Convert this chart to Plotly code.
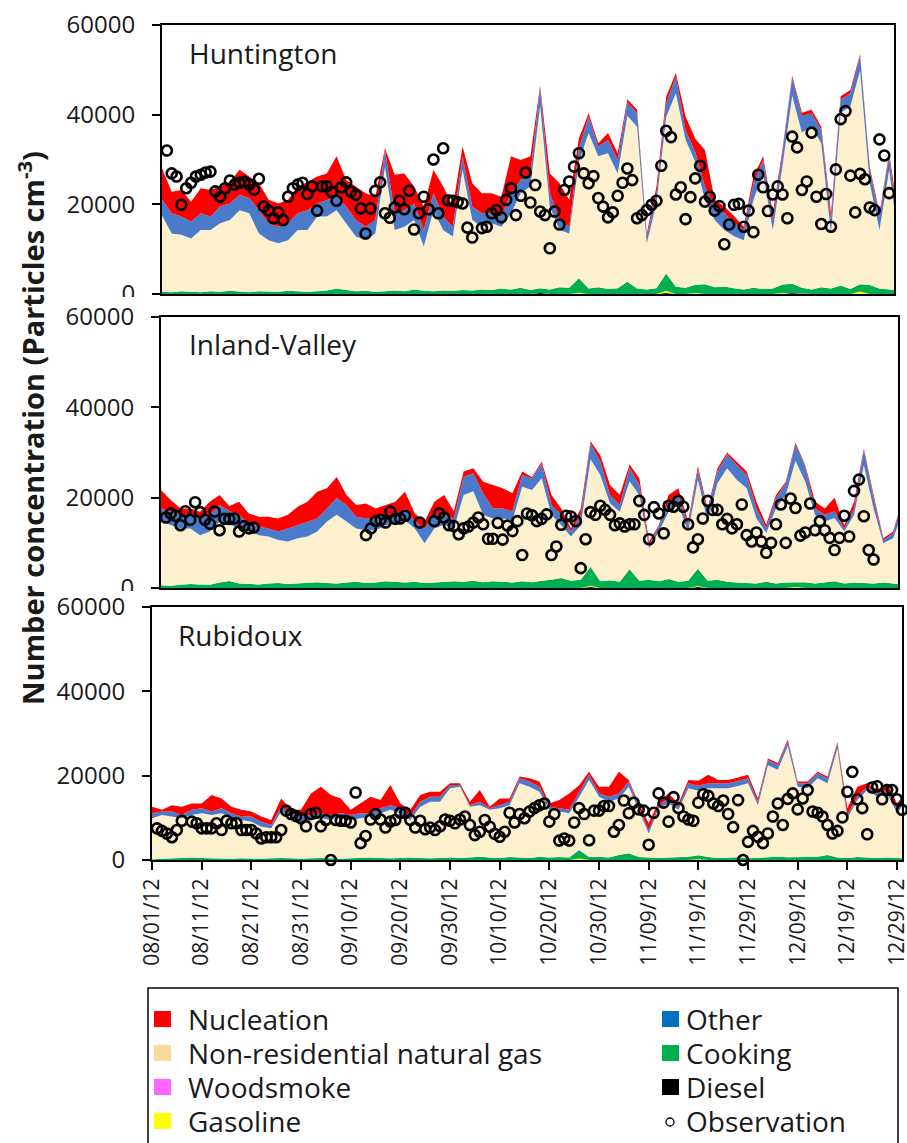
import plotly.graph_objects as go
from datetime import date, timedelta

W, H = 907, 1143
START = date(2012, 8, 1)
END = date(2012, 12, 30)

# ---------------- data (values in thousand particles cm-3) ----------------
AREA_DAYS = list(range(0, 151, 2)) + [151]      # day offsets from 08/01/12
OBS_DAYS = list(range(152))

HUN_NUCLEATION_K = [7.0, 4.8, 5.9, 4.5, 5.6, 5.9, 4.5, 4.8, 5.6, 4.8, 6.0, 5.2, 5.2, 5.2, 6.0, 6.3,
                    6.0, 5.9, 9.0, 5.9, 7.5, 7.5, 5.2, 0.4, 8.6, 8.2, 3.8, 5.2, 5.2, 6.7, 4.5, 2.2,
                    5.2, 4.5, 4.5, 4.4, 8.2, 4.5, 3.8, 0.4, 4.4, 8.2, 6.0, 2.3, 0.7, 0.7, 1.5, 1.5,
                    0.7, 0.8, 0.7, 1.5, 1.5, 0.8, 3.0, 3.0, 8.1, 1.5, 1.5, 1.5, 0.7, 1.5, 0.8, 1.5,
                    0.7, 0.4, 0.7, 0.8, 0.7, 1.5, 0.7, 0.7, 0.4, 0.7, 0.7, 0.7, 1.5]
HUN_OTHER_K = [3.5, 4.5, 4.1, 3.7, 3.7, 3.0, 3.7, 3.7, 3.4, 3.4, 5.2, 3.8, 3.7, 3.8, 3.7, 4.4,
               2.9, 3.7, 3.0, 3.7, 3.7, 3.0, 3.0, 3.7, 3.7, 3.7, 3.7, 3.7, 3.8, 3.0, 2.2, 3.0,
               3.0, 3.0, 2.2, 2.3, 4.5, 2.9, 2.9, 4.1, 3.0, 2.2, 1.5, 2.9, 3.7, 2.2, 3.0, 3.0,
               3.0, 3.0, 1.5, 2.3, 3.0, 3.7, 2.2, 2.2, 3.0, 3.0, 3.7, 3.0, 2.3, 3.7, 3.0, 2.2,
               3.0, 4.1, 3.7, 3.0, 3.0, 3.0, 3.0, 3.0, 3.3, 3.0, 3.0, 3.0, 3.0]
HUN_NATGAS_K = [17.0, 13.1, 12.6, 11.9, 13.9, 13.7, 15.3, 15.8, 18.2, 17.6, 12.9, 11.5, 10.8, 11.3, 13.7, 13.8,
                16.7, 16.5, 17.5, 14.9, 12.2, 11.3, 13.0, 27.8, 13.5, 14.4, 15.5, 9.9, 18.1, 13.5, 12.1, 26.8,
                15.7, 14.0, 14.9, 13.8, 17.0, 21.1, 23.1, 40.7, 18.5, 12.8, 12.1, 26.0, 34.7, 29.2, 30.3, 25.6,
                37.0, 36.1, 10.3, 18.9, 34.9, 43.2, 33.0, 27.4, 18.8, 15.0, 12.6, 11.6, 11.0, 19.6, 25.8, 13.1,
                26.5, 41.9, 34.6, 36.3, 32.1, 12.3, 38.5, 40.7, 47.7, 22.7, 13.1, 26.7, 18.6]
HUN_COOKING_K = [0.5, 0.4, 0.6, 0.5, 0.4, 0.6, 0.5, 0.7, 0.5, 0.4, 0.6, 0.5, 0.5, 0.7, 0.6, 0.5,
                 0.6, 0.8, 1.2, 0.9, 0.6, 0.7, 0.5, 0.6, 0.8, 0.6, 1.0, 0.7, 0.6, 0.8, 0.7, 0.9,
                 0.8, 1.0, 0.9, 1.2, 1.0, 1.4, 0.9, 1.1, 1.0, 1.5, 1.4, 3.2, 1.2, 1.5, 1.1, 1.3,
                 2.6, 1.2, 1.0, 1.3, 3.9, 1.6, 1.4, 1.8, 2.2, 1.5, 1.7, 1.2, 1.0, 1.4, 1.1, 1.2,
                 1.9, 2.1, 1.3, 1.0, 1.5, 1.2, 1.8, 1.1, 1.6, 2.0, 1.2, 1.0, 0.9]
HUN_DIESEL_PTS = {78: 0.2, 96: 0.15, 104: 0.25, 130: 0.2, 144: 0.15}
HUN_GASOLINE_PTS = {86: 0.3, 104: 0.45, 110: 0.25, 128: 0.2, 144: 0.4}
HUN_WOODSMOKE_PTS = {118: 0.1, 132: 0.12, 140: 0.1}
HUN_OBS_K = [None,
             32.0, 26.9, 26.2, 19.9, 23.6, 24.8, 26.2, 26.6, 27.1, 27.3,
             22.9, 21.7, 23.6, 25.3, 24.4, 24.8, 25.0, 24.4, 23.3, 25.7,
             19.5, 18.6, 16.9, 18.2, 16.5, 21.7, 23.6, 24.4, 24.8, 22.3,
             24.0, 18.6, 24.0, 24.0, 22.8, 20.8, 23.8, 24.9, 22.8, 22.1,
             19.1, 13.5, 19.1, 23.0, 24.9, 18.0, 17.0, 19.3, 20.8, 18.9,
             23.0, 14.4, 18.0, 21.7, 18.9, 30.0, 18.0, 32.5, 20.9, 20.8,
             20.5, 20.2, 14.8, 12.6, None, 14.7, 15.0, 18.0, 18.7, 17.1,
             21.0, 23.6, 17.6, 21.9, 27.1, 20.4, 24.3, 18.4, 17.6, 10.2,
             18.4, 15.5, 23.2, 25.1, 28.4, 31.4, 26.9, 24.7, 26.3, 21.4,
             19.5, 17.1, 18.2, 21.9, 24.8, 28.0, 25.4, 16.9, 17.6, 18.7,
             19.9, 20.8, 28.6, 36.4, 35.0, 22.2, 23.8, 16.7, 21.6, 25.8,
             28.6, 20.6, 21.7, 18.6, 19.6, 11.1, 15.5, 19.9, 20.1, 15.0,
             18.6, 13.8, 26.6, 23.8, 18.5, 22.2, 24.0, 22.2, 16.9, 35.1,
             32.7, 23.2, 25.1, 36.0, 21.7, 15.6, 22.3, 15.0, 27.8, 39.0,
             40.8, 26.4, 18.2, 26.8, 25.6, 19.3, 18.7, 34.5, 30.9, 22.5,
             None]

INL_NUCLEATION_K = [4.1, 2.6, 1.4, 1.4, 1.5, 2.9, 2.2, 1.1, 2.9, 2.2, 2.2, 2.6, 2.9, 3.0, 4.1, 4.4,
                    5.9, 4.5, 4.7, 2.2, 2.6, 3.3, 2.2, 2.2, 2.9, 3.7, 1.8, 1.5, 2.9, 4.4, 1.6, 1.2,
                    1.1, 2.5, 5.2, 4.5, 4.0, 0.8, 0.3, 0.4, 2.2, 1.4, 0.7, 1.4, 0.4, 1.4, 2.2, 2.2,
                    0.7, 1.5, 0.8, 0.3, 1.5, 1.5, 0.8, 0.7, 0.7, 0.7, 0.4, 0.8, 0.8, 1.5, 0.7, 0.7,
                    0.3, 0.4, 0.3, 1.5, 1.4, 3.0, 0.7, 1.5, 0.3, 0.7, 0.4, 0.4, 0.4]
INL_OTHER_K = [2.9, 3.0, 3.0, 3.0, 3.7, 3.7, 3.7, 3.0, 3.0, 1.5, 1.9, 1.8, 1.9, 2.9, 2.9, 3.3,
               2.9, 2.9, 3.7, 3.7, 2.6, 2.6, 2.6, 2.3, 1.9, 2.6, 1.5, 3.3, 3.0, 2.2, 2.2, 4.0,
               4.0, 4.8, 2.2, 2.2, 2.0, 2.6, 2.6, 3.3, 2.2, 2.3, 1.1, 2.3, 3.6, 3.0, 1.9, 1.5,
               3.0, 2.2, 0.7, 1.1, 2.2, 2.2, 1.4, 2.3, 2.2, 2.6, 3.1, 3.3, 2.9, 2.2, 1.1, 2.3,
               2.6, 3.6, 3.4, 1.4, 1.5, 1.5, 0.7, 1.4, 3.4, 2.3, 0.7, 1.1, 1.9]
INL_NATGAS_K = [14.1, 13.4, 12.5, 12.3, 10.9, 11.8, 13.5, 12.5, 12.2, 11.9, 10.9, 10.4, 9.5, 9.4, 10.0, 10.2,
                11.2, 13.6, 15.2, 13.5, 11.8, 11.7, 11.6, 12.4, 13.0, 13.8, 11.8, 8.8, 12.0, 12.7, 11.7, 19.2,
                19.8, 14.9, 13.9, 14.0, 13.8, 20.9, 20.4, 22.7, 14.4, 11.7, 9.8, 12.1, 23.8, 23.5, 17.0, 15.5,
                19.5, 19.0, 7.0, 11.0, 14.9, 17.0, 10.9, 19.7, 13.1, 21.4, 25.1, 22.7, 21.0, 14.4, 10.8, 16.6,
                19.4, 26.9, 22.2, 15.2, 13.5, 14.0, 11.5, 15.0, 26.1, 16.6, 8.7, 10.0, 13.0]
INL_COOKING_K = [0.6, 0.5, 0.7, 0.9, 0.8, 0.7, 1.2, 1.4, 1.0, 0.9, 0.8, 1.0, 1.1, 0.9, 1.0, 1.2,
                 1.3, 1.1, 1.0, 1.2, 1.4, 1.1, 1.2, 1.5, 1.3, 1.2, 1.4, 1.1, 1.2, 1.3, 1.5, 1.4,
                 1.6, 1.3, 1.5, 1.4, 1.2, 1.5, 1.3, 1.6, 1.8, 2.2, 1.6, 1.8, 4.2, 1.5, 1.7, 1.4,
                 4.0, 1.6, 1.8, 1.5, 2.0, 1.4, 1.6, 3.8, 1.6, 1.8, 1.4, 1.2, 1.1, 1.0, 1.3, 1.0,
                 1.2, 1.1, 1.3, 1.0, 1.2, 1.4, 1.0, 1.2, 1.1, 1.0, 1.2, 1.0, 0.9]
INL_DIESEL_PTS = {88: 0.2, 96: 0.15, 110: 0.2}
INL_GASOLINE_PTS = {14: 0.15, 88: 0.3, 110: 0.25, 130: 0.2}
INL_WOODSMOKE_PTS = {124: 0.1, 138: 0.1}
INL_OBS_K = [None,
             15.6, 16.5, 16.0, 13.9, 17.0, 15.1, 19.0, 16.8, 15.1, 14.2,
             16.9, 12.8, 15.3, 15.3, 15.4, 12.5, 13.7, 13.2, 13.4, None,
             None, None, None, None, None, None, None, None, None, None,
             None, None, None, None, None, None, None, None, None, None,
             None, 11.7, 13.2, 14.8, 15.1, 14.5, 16.9, 15.3, 15.4, 16.0,
             None, None, 14.5, None, None, 14.8, 16.5, 15.6, 13.9, 13.7,
             11.9, 13.2, 13.6, 14.5, 15.6, 14.1, 10.9, 10.9, 14.4, 10.7,
             13.8, 12.6, 14.8, 7.3, 16.5, 16.1, 14.8, 15.3, 16.3, 7.3,
             9.2, 14.0, 16.0, 15.8, 14.8, 4.4, 10.8, 16.8, 16.2, 18.2,
             17.3, 16.2, 13.9, 14.3, 13.6, 14.1, 14.1, 19.3, 16.2, 10.8,
             17.9, 16.5, 12.1, 18.2, 18.0, 19.3, 18.0, 14.1, 9.0, 10.8,
             15.4, 19.3, 17.3, 17.3, 14.1, 15.3, 13.2, 14.1, 18.5, 11.7,
             10.3, 12.3, 10.3, 7.8, 10.0, 14.1, 18.5, 10.0, 19.8, 17.7,
             11.6, 12.3, 18.7, 12.8, 14.8, 12.8, 11.1, 8.4, 11.1, 16.0,
             11.4, 21.5, 24.0, 15.9, 8.4, 6.3, None, None, None, None,
             None]

RUB_NUCLEATION_K = [1.5, 0.4, 1.5, 1.9, 1.5, 1.1, 3.9, 2.3, 1.5, 1.6, 1.2, 1.2, 1.2, 2.0, 0.8, 1.6,
                    5.1, 6.3, 4.7, 3.5, 1.2, 2.3, 3.9, 1.9, 4.8, 1.1, 1.6, 1.6, 1.2, 1.2, 0.4, 0.4,
                    0.8, 2.8, 0.3, 1.6, 0.8, 0.4, 0.8, 1.2, 0.8, 1.9, 3.9, 1.6, 0.7, 1.6, 2.4, 5.1,
                    0.4, 0.8, 1.6, 0.8, 1.2, 0.8, 0.8, 1.2, 2.0, 0.8, 0.8, 0.8, 0.8, 0.8, 0.4, 0.4,
                    0.4, 0.4, 0.4, 0.3, 0.4, 0.4, 1.6, 2.4, 0.8, 0.8, 1.6, 1.5, 1.6]
RUB_OTHER_K = [1.2, 0.8, 1.2, 0.8, 1.2, 1.2, 0.8, 1.2, 1.2, 0.8, 1.2, 1.2, 0.8, 1.1, 0.8, 1.6,
               1.2, 1.2, 1.2, 0.8, 1.2, 1.2, 0.8, 1.2, 1.1, 1.2, 0.8, 1.2, 1.2, 1.2, 0.8, 0.4,
               0.4, 0.8, 0.4, 0.7, 0.8, 1.2, 1.2, 1.2, 0.7, 0.8, 0.8, 1.2, 1.2, 0.8, 1.2, 1.2,
               1.2, 0.7, 0.8, 0.7, 1.2, 0.7, 1.2, 1.2, 1.2, 1.2, 1.2, 1.2, 1.2, 0.8, 1.2, 1.2,
               1.2, 0.8, 1.2, 1.2, 1.2, 1.1, 0.8, 0.8, 0.8, 0.8, 0.8, 0.8, 0.8]
RUB_NATGAS_K = [9.7, 10.4, 10.0, 9.5, 10.1, 10.6, 10.3, 10.8, 9.6, 9.1, 8.8, 7.6, 7.1, 11.0, 9.9, 8.4,
                9.1, 9.4, 9.1, 10.0, 9.1, 9.4, 9.7, 10.6, 11.5, 10.6, 8.9, 12.1, 13.4, 13.3, 16.4, 16.9,
                12.0, 12.2, 11.3, 11.8, 12.3, 17.6, 16.9, 15.4, 11.3, 10.8, 10.5, 12.6, 18.3, 14.2, 13.2, 13.4,
                15.8, 11.2, 5.7, 11.8, 12.8, 11.2, 16.2, 15.3, 16.3, 16.5, 16.4, 16.9, 17.8, 12.5, 21.9, 20.6,
                26.4, 16.8, 16.3, 18.6, 17.0, 25.9, 9.4, 13.5, 16.0, 14.5, 15.2, 10.7, 12.2]
RUB_COOKING_K = [0.2, 0.3, 0.3, 0.4, 0.6, 0.5, 0.4, 0.3, 0.3, 0.4, 0.3, 0.3, 0.4, 0.5, 0.4, 0.3,
                 0.4, 0.5, 0.4, 0.3, 0.4, 0.5, 0.6, 0.5, 0.4, 0.5, 0.6, 0.5, 0.4, 0.5, 0.6, 0.5,
                 0.6, 0.8, 0.6, 0.5, 0.7, 0.6, 0.5, 0.8, 0.6, 0.7, 0.6, 2.0, 0.7, 0.8, 0.6, 1.2,
                 1.6, 0.7, 0.6, 0.5, 0.6, 0.7, 0.8, 0.9, 0.7, 0.5, 0.6, 0.5, 0.4, 0.5, 0.6, 0.7,
                 0.5, 0.6, 0.7, 0.8, 1.2, 0.6, 0.5, 0.7, 0.6, 0.5, 0.6, 0.4, 0.4]
RUB_DIESEL_PTS = {86: 0.15, 118: 0.15}
RUB_GASOLINE_PTS = {86: 0.2, 110: 0.2, 128: 0.15}
RUB_WOODSMOKE_PTS = {126: 0.08}
RUB_OBS_K = [None,
             7.5, 6.9, 6.3, 5.4, 7.1, 9.3, None, 9.1, 8.7, 7.5,
             7.5, 7.5, 8.7, 7.1, 9.3, 8.7, 8.7, 7.1, 7.1, 7.1,
             6.3, 5.1, 5.4, 5.4, 5.4, 7.1, 11.7, 10.9, 10.4, 9.9,
             8.0, 10.9, 11.2, 8.0, 9.5, 0.0, 9.5, 9.3, 9.3, 8.9,
             16.0, 4.0, 5.7, 9.6, 10.9, 9.6, 7.7, 9.1, 9.5, 11.2,
             11.2, 9.5, 7.7, 9.3, 7.3, 7.7, 7.1, 8.0, 9.6, 9.3,
             8.7, 9.6, 10.3, 8.3, 5.9, 6.7, 9.5, 7.9, 6.2, 5.5,
             6.7, 11.2, 8.9, 10.9, 9.9, 11.5, 12.3, 13.0, 13.4, 9.1,
             10.9, 4.6, 5.1, 4.6, 8.9, 12.3, 10.9, 4.7, 11.7, 11.7,
             12.8, 12.8, 6.7, 8.3, 14.1, 11.1, 13.6, 12.0, 11.7, 3.6,
             11.2, 15.8, 13.6, 9.1, 14.9, 12.3, 10.3, 9.6, 9.3, 13.6,
             15.6, 15.2, 13.4, 12.8, 14.1, 10.9, 7.8, 14.2, 0.0, 4.3,
             6.9, 5.5, 4.0, 6.3, 10.3, 13.4, 8.3, 14.5, 15.8, 12.0,
             14.6, 16.6, 11.5, 11.2, 10.3, 8.3, 6.3, 6.9, 10.1, 16.2,
             20.9, 14.4, 12.3, 6.1, 17.2, 17.5, 14.4, 16.6, 16.6, 14.4,
             11.9]

Y_TICKS = [0, 20000, 40000, 60000]
X_TICK_DAYS = list(range(0, 151, 10))

# ---------------- styling ----------------
FILL = {"Diesel": "#000000", "Gasoline": "#FFFF00", "Woodsmoke": "#FF66FF", "Cooking": "#00B050",
        "Non-residential natural gas": "#FDF0CF", "Other": "#4A7BCB", "Nucleation": "#FF0000"}
LEGEND_COL = {"Nucleation": "#FF0000", "Non-residential natural gas": "#FAD99B", "Woodsmoke": "#FF66FF",
              "Gasoline": "#FFFF00", "Other": "#0070C0", "Cooking": "#00B050", "Diesel": "#000000"}
FONT = "Open Sans"
TXT = "#1a1a1a"


def to_date(d):
    return (START + timedelta(days=d)).isoformat()


def thousand(vals):
    return [None if v is None else v * 1000 for v in vals]


def sparse(pts):
    return [pts.get(d, 0) * 1000 for d in AREA_DAYS]


def px(xp):
    return xp / W


def py(yp):
    return 1 - yp / H


panels = [
    dict(name="Huntington", x=(162, 894), y=(25, 294), title_xy=(187, 53),
         series=[("Diesel", sparse(HUN_DIESEL_PTS)), ("Gasoline", sparse(HUN_GASOLINE_PTS)),
                 ("Woodsmoke", sparse(HUN_WOODSMOKE_PTS)), ("Cooking", thousand(HUN_COOKING_K)),
                 ("Non-residential natural gas", thousand(HUN_NATGAS_K)),
                 ("Other", thousand(HUN_OTHER_K)), ("Nucleation", thousand(HUN_NUCLEATION_K))],
         obs=thousand(HUN_OBS_K)),
    dict(name="Inland-Valley", x=(161, 898), y=(317, 588), title_xy=(187, 344),
         series=[("Diesel", sparse(INL_DIESEL_PTS)), ("Gasoline", sparse(INL_GASOLINE_PTS)),
                 ("Woodsmoke", sparse(INL_WOODSMOKE_PTS)), ("Cooking", thousand(INL_COOKING_K)),
                 ("Non-residential natural gas", thousand(INL_NATGAS_K)),
                 ("Other", thousand(INL_OTHER_K)), ("Nucleation", thousand(INL_NUCLEATION_K))],
         obs=thousand(INL_OBS_K)),
    dict(name="Rubidoux", x=(152, 902), y=(607, 860), title_xy=(176, 635),
         series=[("Diesel", sparse(RUB_DIESEL_PTS)), ("Gasoline", sparse(RUB_GASOLINE_PTS)),
                 ("Woodsmoke", sparse(RUB_WOODSMOKE_PTS)), ("Cooking", thousand(RUB_COOKING_K)),
                 ("Non-residential natural gas", thousand(RUB_NATGAS_K)),
                 ("Other", thousand(RUB_OTHER_K)), ("Nucleation", thousand(RUB_NUCLEATION_K))],
         obs=thousand(RUB_OBS_K)),
]

fig = go.Figure()
area_x = [to_date(d) for d in AREA_DAYS]
obs_x = [to_date(d) for d in OBS_DAYS]
annotations = []
shapes = []

for i, p in enumerate(panels, start=1):
    sfx = "" if i == 1 else str(i)
    xa, ya = "x" + sfx, "y" + sfx
    for name, vals in p["series"]:
        fig.add_trace(go.Scatter(x=area_x, y=vals, xaxis=xa, yaxis=ya, stackgroup="s%d" % i,
                                 mode="lines", line=dict(width=0, color=FILL[name]),
                                 fillcolor=FILL[name], name=name, showlegend=False,
                                 hoverinfo="skip"))
    fig.add_trace(go.Scatter(x=obs_x, y=p["obs"], xaxis=xa, yaxis=ya, mode="markers",
                             marker=dict(symbol="circle-open", size=10, color="black",
                                         line=dict(width=2.6, color="black")),
                             cliponaxis=False, name="Observation", showlegend=False))
    last = (i == 3)
    xaxis = dict(domain=[px(p["x"][0]), px(p["x"][1])], anchor=ya, type="date",
                 range=[to_date(0), END.isoformat()], showline=True, mirror=True,
                 linecolor="black", linewidth=2, showgrid=False, zeroline=False,
                 automargin=False, showticklabels=last, ticks="outside" if last else "",
                 ticklen=8, tickwidth=1.5, tickcolor="black")
    if last:
        xaxis.update(tickmode="array", tickvals=[to_date(d) for d in X_TICK_DAYS],
                     ticktext=[(START + timedelta(days=d)).strftime("%m/%d/%y") for d in X_TICK_DAYS],
                     tickangle=-90, ticklabeloverflow="allow",
                     tickfont=dict(family=FONT, size=21, color=TXT))
    yaxis = dict(domain=[py(p["y"][1]), py(p["y"][0])], anchor=xa, range=[0, 60000],
                 tickmode="array", tickvals=Y_TICKS, ticktext=[str(v) for v in Y_TICKS],
                 ticks="outside", ticklen=8, tickwidth=1.5, tickcolor="black",
                 tickfont=dict(family=FONT, size=24, color=TXT), ticklabelstandoff=12,
                 ticklabeloverflow="allow", automargin=False,
                 showline=True, mirror=True, linecolor="black", linewidth=2,
                 showgrid=False, zeroline=False)
    fig.update_layout(**{"xaxis" + sfx: xaxis, "yaxis" + sfx: yaxis})
    annotations.append(dict(text=p["name"], x=px(p["title_xy"][0]), y=py(p["title_xy"][1]),
                            xref="paper", yref="paper", xanchor="left", yanchor="middle",
                            showarrow=False, font=dict(family=FONT, size=28, color=TXT)))

# partially hidden "0" labels of the upper two panels
for y0, y1 in [(297, 308), (591, 598)]:
    shapes.append(dict(type="rect", xref="paper", yref="paper", x0=px(60), x1=px(150),
                       y0=py(y1), y1=py(y0), fillcolor="white", line=dict(width=0), layer="above"))

# y-axis title
annotations.append(dict(text="<b>Number concentration (Particles cm<sup>-3</sup>)</b>",
                        x=px(31), y=py(428), xref="paper", yref="paper", textangle=-90,
                        showarrow=False, xanchor="center", yanchor="middle",
                        font=dict(family=FONT, size=29, color=TXT)))

# legend box
shapes.append(dict(type="rect", xref="paper", yref="paper", x0=px(148), x1=px(898),
                   y0=py(1150), y1=py(988), line=dict(color="black", width=1.5),
                   fillcolor="rgba(0,0,0,0)", layer="above"))
LEGEND_LEFT = ["Nucleation", "Non-residential natural gas", "Woodsmoke", "Gasoline"]
LEGEND_RIGHT = ["Other", "Cooking", "Diesel", "Observation"]
ROWS_Y = [1019, 1053, 1087, 1121]
for names, sx, tx in [(LEGEND_LEFT, 154, 186), (LEGEND_RIGHT, 662, 684)]:
    for name, ry in zip(names, ROWS_Y):
        if name == "Observation":
            shapes.append(dict(type="circle", xref="paper", yref="paper",
                               x0=px(sx + 4), x1=px(sx + 12), y0=py(ry + 5), y1=py(ry - 3),
                               line=dict(color="black", width=1.3), fillcolor="white"))
        else:
            shapes.append(dict(type="rect", xref="paper", yref="paper",
                               x0=px(sx), x1=px(sx + 17), y0=py(ry + 8), y1=py(ry - 8),
                               line=dict(width=0), fillcolor=LEGEND_COL[name]))
        annotations.append(dict(text=name, x=px(tx), y=py(ry), xref="paper", yref="paper",
                                xanchor="left", yanchor="middle", showarrow=False,
                                font=dict(family=FONT, size=28, color=TXT)))

fig.update_layout(width=W, height=H, autosize=False, margin=dict(l=0, r=0, t=0, b=0, pad=0),
                  paper_bgcolor="white", plot_bgcolor="white", showlegend=False,
                  font=dict(family=FONT, color=TXT), annotations=annotations, shapes=shapes)

fig.write_html("out.html")
